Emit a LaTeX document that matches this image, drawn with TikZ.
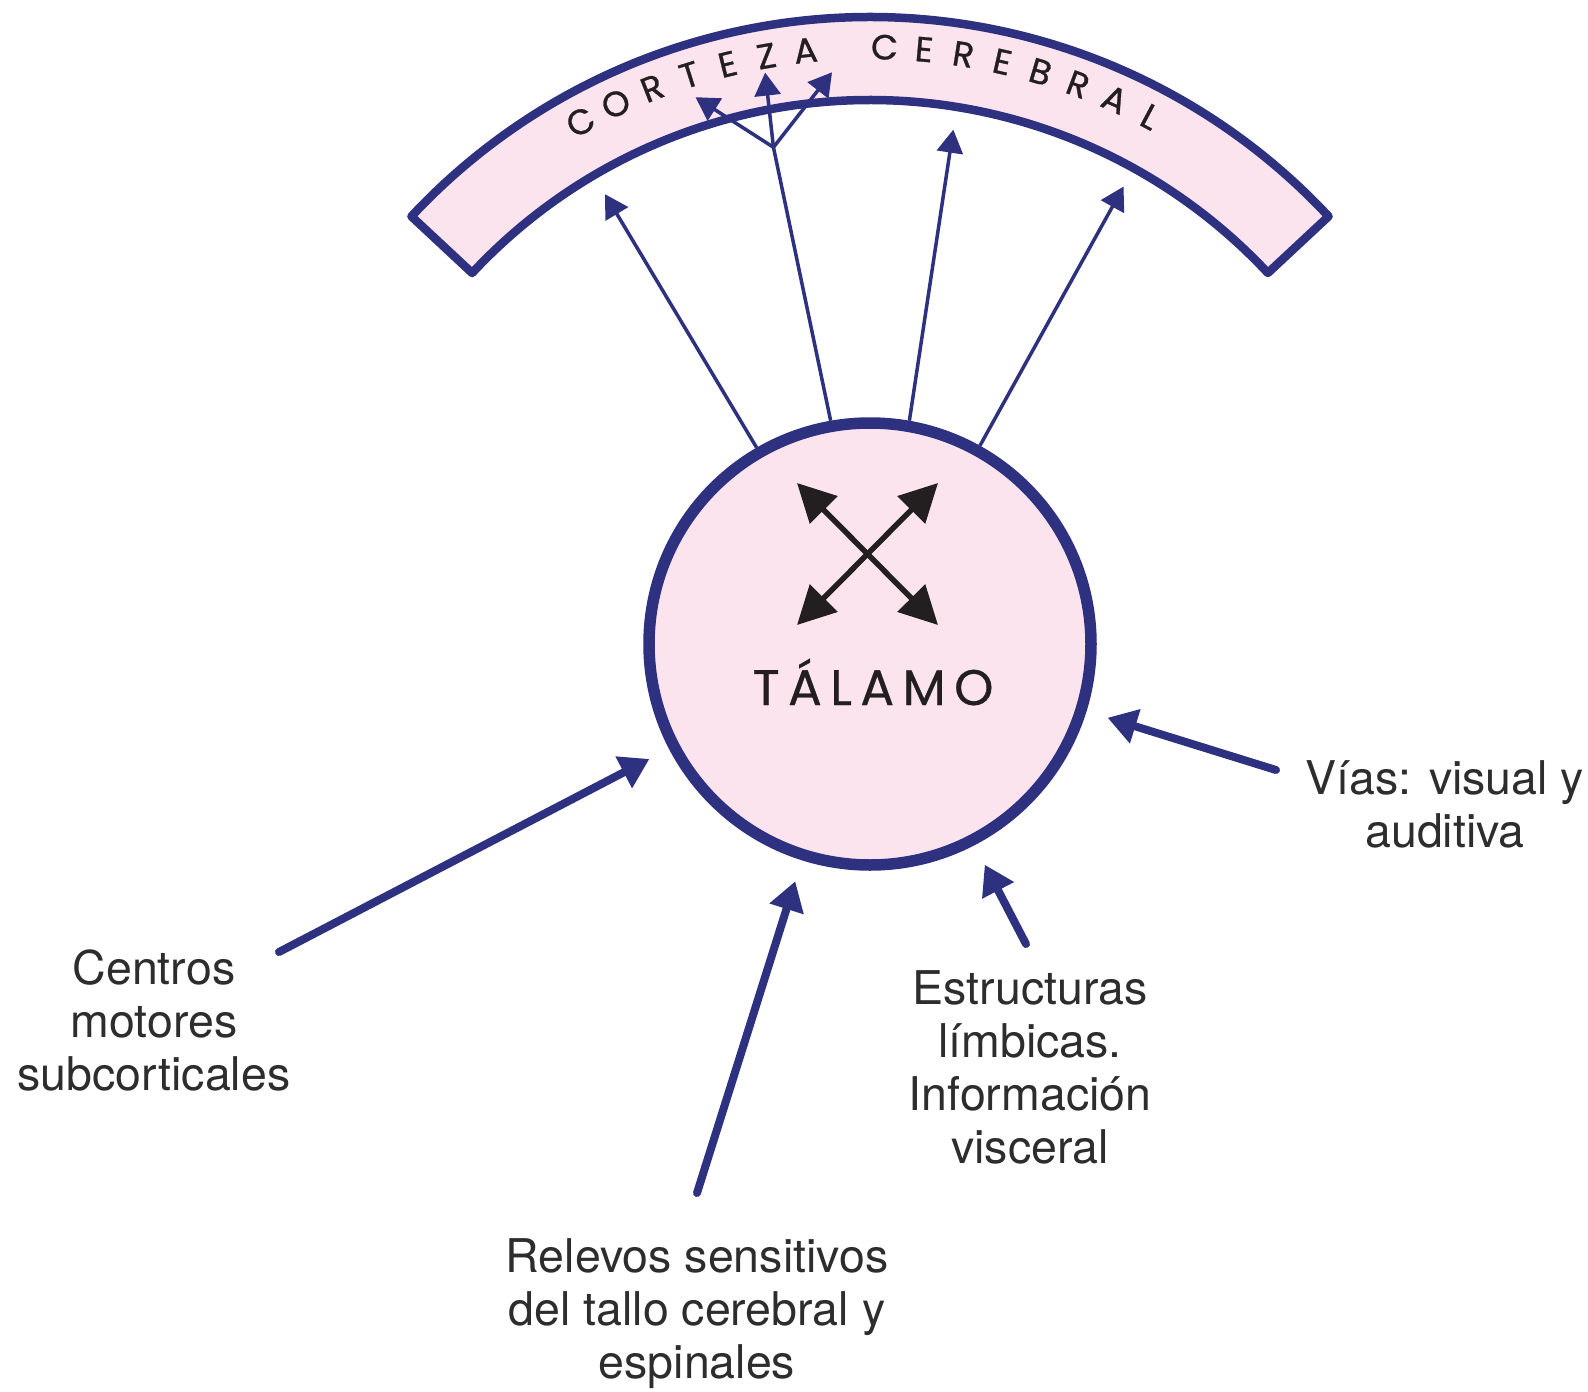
\documentclass[tikz,border=0pt]{standalone}
\usepackage{fontspec}
\setmainfont{TeX Gyre Heros}
\newfontfamily\geo[LetterSpace=17,FakeBold=0.6]{Poppins}
\newfontfamily\geoarc[FakeBold=0.8]{Poppins}
\usetikzlibrary{arrows.meta}
\definecolor{navy}{RGB}{46,49,128}
\definecolor{pinkf}{RGB}{251,228,238}
\definecolor{ink}{RGB}{35,31,32}
\definecolor{labc}{RGB}{45,45,45}
\begin{document}
\begin{tikzpicture}[x=1pt,y=1pt,
  band/.style={draw=navy,fill=pinkf,line width=8.5pt,line join=round},
  thal/.style={circle,draw=navy,fill=pinkf,line width=11.5pt,minimum size=442pt,inner sep=0pt},
  uparrow/.style={draw=navy,line width=3.5pt,-{Triangle[length=23pt,width=26pt]}},
  upline/.style={draw=navy,line width=3.5pt},
  inarrow/.style={draw=navy,line width=8pt,line cap=round,-{Triangle[length=29pt,width=34pt]},shorten >=22pt},
  cross/.style={draw=ink,line width=5.5pt,{Triangle[length=38pt,width=38pt]}-{Triangle[length=38pt,width=38pt]}},
  lab/.style={text=labc,align=center,font=\fontsize{46.5}{53}\selectfont},
  arcl/.style={text=ink,font=\geoarc\fontsize{35}{35}\selectfont,inner sep=0pt}
]
\fill[white] (0,0) rectangle (1588,-1392);
\useasboundingbox (0,0) rectangle (1588,-1392);
\coordinate (C) at (870,-644);
% cortex band
\draw[band] ([shift={(870,-644)}]43:627) arc[start angle=43,end angle=137,radius=627]
  -- ([shift={(870,-644)}]137:544) arc[start angle=137,end angle=43,radius=544] -- cycle;
\foreach \ch/\k in {C/0,O/1,R/2,T/3,E/4,Z/5,A/6,C/8,E/9,R/10,E/11,B/12,R/13,A/14,L/15}{
  \pgfmathsetmacro\ang{119-3.8*\k}
  \node[arcl,rotate=\ang-90] (arc\k) at ([shift={(870,-644)}]\ang:597) {\ch};
}
% thalamus
\node[thal] (tal) at (870,-644) {};
\node[text=ink,font=\geo\fontsize{50}{50}\selectfont] (tname) at (873,-682) {TÁLAMO};
% cross arrows
\coordinate (x1) at (797,-483);
\coordinate (x2) at (938,-625);
\coordinate (x3) at (938,-483);
\coordinate (x4) at (797,-625);
\draw[cross] (x1) -- (x2);
\draw[cross] (x3) -- (x4);
% projections to cortex
\coordinate (t1) at ([shift={(870,-644)}]120.5:522);
\coordinate (t3) at ([shift={(870,-644)}]80.8:521);
\coordinate (t4) at ([shift={(870,-644)}]61:523);
\coordinate (br) at ([shift={(870,-644)}]101:506);
\coordinate (b1) at ([shift={(870,-644)}]107.7:574);
\coordinate (b2) at ([shift={(870,-644)}]100.4:581);
\coordinate (b3) at ([shift={(870,-644)}]93.8:573);
\draw[uparrow] (tal.120.5) -- (t1);
\draw[uparrow] (tal.80.8) -- (t3);
\draw[uparrow] (tal.61) -- (t4);
\draw[upline] (tal.100.9) -- (br);
\draw[uparrow] (br) -- (b1);
\draw[uparrow] (br) -- (b2);
\draw[uparrow] (br) -- (b3);
% inputs
\coordinate (sa) at (279,-952);
\coordinate (sb) at (697,-1193);
\coordinate (sc) at (1026,-944);
\coordinate (sd) at (1276,-770);
\draw[inarrow] (sa) -- (tal);
\draw[inarrow] (sb) -- (tal);
\draw[inarrow] (sc) -- (tal);
\draw[inarrow] (sd) -- (tal);
% labels
\node[lab] (centros) at (154,-1020) {Centros\\motores\\subcorticales};
\node[lab] (relevos) at (697,-1314) {Relevos sensitivos\\del tallo cerebral y\\espinales};
\node[lab] (estruct) at (1030,-1067) {Estructuras\\límbicas.\\Información\\visceral};
\node[lab] (vias) at (1445,-804) {Vías: visual y\\auditiva};
\end{tikzpicture}
\end{document}
